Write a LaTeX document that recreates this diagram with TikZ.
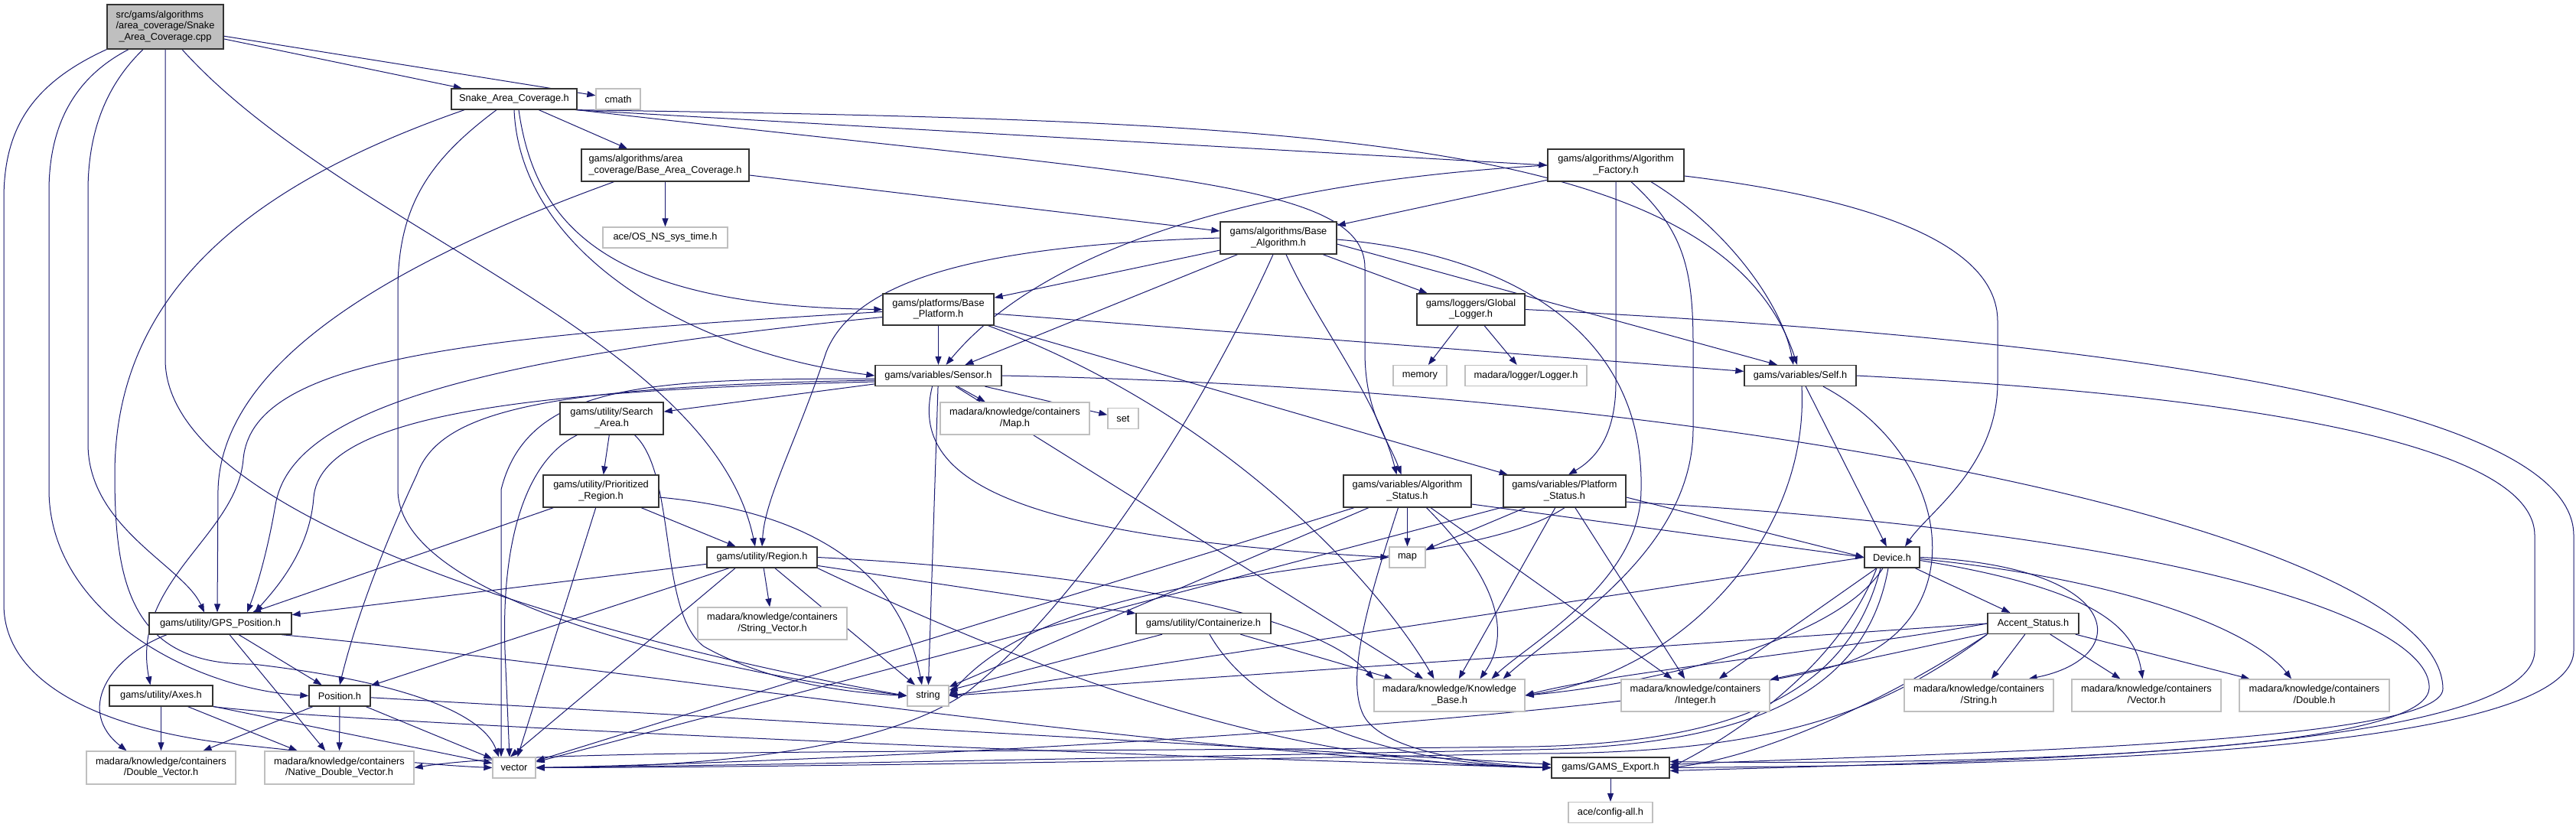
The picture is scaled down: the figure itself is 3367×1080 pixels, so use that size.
\documentclass[tikz,border=0pt]{standalone}
\usepackage{fontspec}
\setmainfont{Liberation Sans}
\usetikzlibrary{arrows.meta,backgrounds}
\definecolor{edgeB}{RGB}{25,25,112}
\definecolor{boxG}{RGB}{191,191,191}
% two-line doxygen label: first line left, last line centred
\newcommand{\dlbl}[2]{\begin{tabular}{@{}l@{}}#1\\\multicolumn{1}{@{}c@{}}{#2}\end{tabular}}

\begin{document}
\begin{tikzpicture}[x=1pt,y=-1pt,font=\fontsize{12.8}{14.8}\selectfont,
  doc/.style={draw=black!80,fill=white,line width=1.3pt,inner sep=0pt},
  ext/.style={draw=boxG,fill=white,line width=1.3pt,inner sep=0pt},
  sz/.style 2 args={minimum width=#1pt,minimum height=#2pt},
  inc/.style={draw=edgeB,line width=1pt,-{Triangle[length=11pt,width=8pt]}}]
\useasboundingbox (0,0) rectangle (3367,1080);
% files, rank by rank
\node[doc,fill=boxG,sz={152}{58}] (root) at (216,35) {\begin{tabular}{@{}l@{}}src/gams/algorithms\\/area\_coverage/Snake\\\multicolumn{1}{@{}c@{}}{\_Area\_Coverage.cpp}\end{tabular}};
\node[doc,sz={164}{27}] (snake) at (672,129.5) {Snake\_Area\_Coverage.h};
\node[ext,sz={58}{27}] (cmath) at (808,129.5) {cmath};
\node[doc,sz={219}{42}] (bac) at (869.5,216) {\dlbl{gams/algorithms/area}{\_coverage/Base\_Area\_Coverage.h}};
\node[doc,sz={178}{42}] (factory) at (2112,216) {\dlbl{gams/algorithms/Algorithm}{\_Factory.h}};
\node[ext,sz={163}{27}] (osns) at (869.5,310.5) {ace/OS\_NS\_sys\_time.h};
\node[doc,sz={152}{42}] (basealg) at (1671,311) {\dlbl{gams/algorithms/Base}{\_Algorithm.h}};
\node[doc,sz={145}{41}] (baseplat) at (1226.5,404.5) {\dlbl{gams/platforms/Base}{\_Platform.h}};
\node[doc,sz={141}{41}] (logger) at (1922.5,404.5) {\dlbl{gams/loggers/Global}{\_Logger.h}};
\node[doc,sz={165}{27}] (sensor) at (1226.5,491) {gams/variables/Sensor.h};
\node[ext,sz={70}{27}] (memory) at (1856,491) {memory};
\node[ext,sz={159}{27}] (madlog) at (1994.5,491) {madara/logger/Logger.h};
\node[doc,sz={146}{27}] (self) at (2353,491) {gams/variables/Self.h};
\node[doc,sz={135}{42}] (search) at (799.5,547) {\dlbl{gams/utility/Search}{\_Area.h}};
\node[ext,sz={195}{42}] (mapc) at (1326.5,547) {\dlbl{madara/knowledge/containers}{/Map.h}};
\node[ext,sz={40}{27}] (set) at (1468,547) {set};
\node[doc,sz={151}{42}] (prio) at (785.5,642) {\dlbl{gams/utility/Prioritized}{\_Region.h}};
\node[doc,sz={167}{42}] (algstat) at (1839.5,642) {\dlbl{gams/variables/Algorithm}{\_Status.h}};
\node[doc,sz={160}{42}] (platstat) at (2045,642) {\dlbl{gams/variables/Platform}{\_Status.h}};
\node[doc,sz={144}{27}] (region) at (996,728.5) {gams/utility/Region.h};
\node[ext,sz={47}{27}] (map) at (1839.5,728.5) {map};
\node[doc,sz={72}{27}] (device) at (2473,728.5) {Device.h};
\node[doc,sz={186}{28}] (gps) at (288,815) {gams/utility/GPS\_Position.h};
\node[ext,sz={195}{42}] (strvec) at (1009.5,815) {\dlbl{madara/knowledge/containers}{/String\_Vector.h}};
\node[doc,sz={176}{27}] (contain) at (1573,815) {gams/utility/Containerize.h};
\node[doc,sz={119}{27}] (accent) at (2657.5,815) {Accent\_Status.h};
\node[doc,sz={135}{27}] (axes) at (210.5,909.5) {gams/utility/Axes.h};
\node[doc,sz={80}{27}] (position) at (444,909.5) {Position.h};
\node[ext,sz={54}{27}] (string) at (1213,909.5) {string};
\node[ext,sz={197}{42}] (kb) at (1894.5,909) {\dlbl{madara/knowledge/Knowledge}{\_Base.h}};
\node[ext,sz={194}{42}] (integer) at (2216,909) {\dlbl{madara/knowledge/containers}{/Integer.h}};
\node[ext,sz={195}{42}] (strc) at (2586.5,909) {\dlbl{madara/knowledge/containers}{/String.h}};
\node[ext,sz={195}{42}] (vecc) at (2805.5,909) {\dlbl{madara/knowledge/containers}{/Vector.h}};
\node[ext,sz={196}{42}] (dbl) at (3025,909) {\dlbl{madara/knowledge/containers}{/Double.h}};
\node[ext,sz={195}{43}] (dblvec) at (210.5,1003.5) {\dlbl{madara/knowledge/containers}{/Double\_Vector.h}};
\node[ext,sz={195}{43}] (ndblvec) at (443.5,1003.5) {\dlbl{madara/knowledge/containers}{/Native\_Double\_Vector.h}};
\node[ext,sz={56}{27}] (vector) at (672,1003.5) {vector};
\node[doc,sz={154}{27}] (export) at (2105,1003.5) {gams/GAMS\_Export.h};
\node[ext,sz={110}{27}] (config) at (2105,1062) {ace/config-all.h};

\begin{scope}[on background layer]
\fill[white] (0,0) rectangle (3367,1080);
% source file
\draw[inc] (root) -- (snake);
\draw[inc] (root) -- (cmath);
\draw[inc] (root.south west) .. controls (40,110) and (5,170) .. (5,260) -- (5,790) .. controls (5,900) and (150,955) .. (300,972) .. controls (450,988) and (560,1000) .. (vector.west);
\draw[inc] ([xshift=-48pt]root.south) .. controls (100,100) and (64,160) .. (64,250) -- (64,640) .. controls (64,800) and (250,900) .. (position.west);
\draw[inc] ([xshift=-29pt]root.south) .. controls (140,110) and (115,170) .. (115,250) -- (115,580) .. controls (115,690) and (240,740) .. ([xshift=-21pt]gps.north);
\draw[inc] (root.south) -- (216,470) .. controls (216,700) and (900,860) .. (string.west);
\draw[inc] ([xshift=22pt]root.south) .. controls (450,300) and (930,440) .. ([xshift=-9pt]region.north);
% Snake_Area_Coverage.h
\draw[inc] (snake) -- (bac);
\draw[inc] ([xshift=-3pt]snake.south east) -- (factory.west);
\draw[inc] (snake.south) .. controls (680,330) and (900,460) .. (sensor.west);
\draw[inc] ([xshift=6pt]snake.south) .. controls (700,300) and (800,400) .. (baseplat.west);
\draw[inc] ([xshift=-65pt]snake.south) .. controls (330,240) and (150,380) .. (150,620) .. controls (150,760) and (170,870) .. (330,868) .. controls (520,890) and (630,930) .. ([xshift=-20pt]vector.north);
\draw[inc] ([xshift=-23pt]snake.south) .. controls (560,210) and (520,270) .. (520,380) -- (520,640) .. controls (520,790) and (950,880) .. (string.west);
\draw[inc] (snake.south east) .. controls (1700,158) and (2250,175) .. ([xshift=-4pt]self.north);
\draw[inc] (snake.south east) .. controls (1500,230) and (1784,235) .. (1784,350) -- (1784,460) .. controls (1784,540) and (1815,575) .. ([xshift=-8pt]algstat.north);
% Base_Area_Coverage.h
\draw[inc] (bac) -- (osns);
\draw[inc] (bac) -- (basealg);
\draw[inc] ([xshift=-67pt]bac.south) .. controls (520,340) and (290,470) .. (285,640) -- ([xshift=-4pt]gps.north);
% Algorithm_Factory.h
\draw[inc] (factory) -- (basealg);
\draw[inc] (factory.west) .. controls (1600,240) and (1350,340) .. ([xshift=10pt]sensor.north);
\draw[inc] (factory.south) -- (2112,500) .. controls (2112,570) and (2085,600) .. ([xshift=5pt]platstat.north);
\draw[inc] ([xshift=20pt]factory.south) .. controls (2200,300) and (2213,350) .. (2213,450) -- (2213,560) .. controls (2213,720) and (2040,820) .. ([xshift=70pt]kb.north);
\draw[inc] ([xshift=46pt]factory.south) .. controls (2260,300) and (2330,400) .. ([xshift=-9pt]self.north);
\draw[inc] ([yshift=-14pt]factory.east) .. controls (2450,260) and (2611,320) .. (2611,420) -- (2611,500) .. controls (2611,610) and (2520,670) .. ([xshift=17pt]device.north);
% Base_Algorithm.h
\draw[inc] (basealg) -- (baseplat);
\draw[inc] (basealg) -- (sensor);
\draw[inc] (basealg) -- (logger);
\draw[inc] ([yshift=-8pt]basealg.east) -- ([xshift=-30pt]self.north);
\draw[inc] (basealg.west) .. controls (1300,320) and (1120,360) .. (1080,460) .. controls (1040,580) and (1000,650) .. (region.north);
\draw[inc] ([xshift=-7pt]basealg.south) .. controls (1580,520) and (1420,780) .. (1265,904) .. controls (1150,985) and (900,1003) .. (vector.east);
\draw[inc] ([xshift=10pt]basealg.south) .. controls (1720,420) and (1800,520) .. ([xshift=-14pt]algstat.north);
\draw[inc] ([yshift=-2pt]basealg.east) .. controls (1950,330) and (2150,420) .. (2145,640) .. controls (2145,760) and (2000,840) .. ([xshift=55pt]kb.north);
% Base_Platform.h
\draw[inc] (baseplat) -- (sensor);
\draw[inc] (baseplat) -- (self);
\draw[inc] (baseplat) -- (platstat);
\draw[inc] ([xshift=65pt]baseplat.south) .. controls (1600,540) and (1800,760) .. ([xshift=-20pt]kb.north);
\draw[inc] ([yshift=-3pt]baseplat.west) .. controls (600,440) and (330,470) .. (318,600) .. controls (310,700) and (170,760) .. ([xshift=-14pt]axes.north);
\draw[inc] ([yshift=-10pt]baseplat.west) .. controls (600,470) and (380,540) .. (360,660) .. controls (350,720) and (335,770) .. ([xshift=35pt]gps.north);
% Global_Logger.h
\draw[inc] (logger) -- (memory);
\draw[inc] (logger) -- (madlog);
\draw[inc] (logger.east) .. controls (2700,440) and (3364,520) .. (3364,700) -- (3364,850) .. controls (3364,990) and (2600,1000) .. (export.east);
% Self.h
\draw[inc] (self) -- (device);
\draw[inc] ([xshift=2pt]self.south) .. controls (2365,700) and (2200,880) .. (kb.east);
\draw[inc] ([xshift=30pt]self.south) .. controls (2560,600) and (2580,820) .. (2400,870) .. controls (2200,930) and (1300,990) .. (vector.east);
\draw[inc] (self.east) .. controls (2800,510) and (3313,560) .. (3313,700) -- (3313,850) .. controls (3313,985) and (2600,995) .. ([yshift=-4pt]export.east);
% Sensor.h
\draw[inc] (sensor) -- (search);
\draw[inc] (sensor) -- (mapc);
\draw[inc] (sensor) -- (set);
\draw[inc] (sensor) -- (string);
\draw[inc] (sensor) -- (kb);
\draw[inc] ([xshift=-8pt]sensor.south) .. controls (1190,620) and (1300,700) .. (map.west);
\draw[inc] ([yshift=-4pt]sensor.west) .. controls (850,495) and (690,500) .. (655,640) -- ([xshift=-17pt]vector.north);
\draw[inc] ([yshift=-8pt]sensor.west) .. controls (700,510) and (420,540) .. (410,650) .. controls (405,720) and (360,770) .. ([xshift=45pt]gps.north);
\draw[inc] ([yshift=-6pt]sensor.west) .. controls (700,505) and (575,540) .. (545,620) .. controls (480,760) and (455,850) .. (position.north);
\draw[inc] (sensor.east) .. controls (2300,510) and (3190,700) .. (3193,900) .. controls (3195,975) and (2500,985) .. ([yshift=4pt]export.east);
% Search_Area.h
\draw[inc] (search) -- (prio);
\draw[inc] ([xshift=-45pt]search.south) .. controls (690,600) and (655,700) .. (660,850) -- ([xshift=-6pt]vector.north);
\draw[inc] ([xshift=30pt]search.south) .. controls (885,620) and (860,800) .. (920,845) .. controls (1000,890) and (1100,905) .. (string.west);
% Prioritized_Region.h
\draw[inc] (prio) -- (region);
\draw[inc] (prio) -- (gps);
\draw[inc] (prio) -- (vector);
\draw[inc] ([yshift=-8pt]prio.east) .. controls (1080,670) and (1180,760) .. ([xshift=-8pt]string.north);
% Region.h
\draw[inc] (region) -- (gps);
\draw[inc] (region) -- (position);
\draw[inc] (region) -- (strvec);
\draw[inc] (region) -- (contain);
\draw[inc] (region) -- (string);
\draw[inc] ([xshift=-35pt]region.south) -- ([xshift=-5pt]vector.north);
\draw[inc] (region.east) .. controls (1300,740) and (1700,780) .. (kb.north west);
\draw[inc] (region.south east) .. controls (1400,900) and (1700,1000) .. (export.west);
% Containerize.h
\draw[inc] (contain) -- (string);
\draw[inc] (contain) -- (kb);
\draw[inc] ([xshift=8pt]contain.south) .. controls (1650,950) and (1850,1000) .. (export.west);
% Algorithm_Status.h
\draw[inc] (algstat) -- (map);
\draw[inc] (algstat) -- (integer);
\draw[inc] (algstat) -- (string);
\draw[inc] (algstat) -- (vector);
\draw[inc] ([yshift=-17pt]algstat.east) -- (device.west);
\draw[inc] ([xshift=25pt]algstat.south) .. controls (1960,760) and (1975,830) .. ([xshift=40pt]kb.north);
\draw[inc] ([xshift=-12pt]algstat.south) .. controls (1790,780) and (1760,880) .. (1780,930) .. controls (1800,985) and (1950,1000) .. (export.west);
% Platform_Status.h
\draw[inc] (platstat) -- (map);
\draw[inc] (platstat) -- (kb);
\draw[inc] (platstat) -- (integer);
\draw[inc] (platstat) -- (vector);
\draw[inc] ([yshift=-8pt]platstat.east) -- (device.west);
\draw[inc] (platstat.south) .. controls (1900,760) and (1400,720) .. (string.east);
\draw[inc] ([yshift=-14pt]platstat.east) .. controls (2900,700) and (3180,820) .. (3175,900) .. controls (3170,990) and (2500,1000) .. ([yshift=8pt]export.east);
% Device.h
\draw[inc] (device) -- (accent);
\draw[inc] (device) -- (integer);
\draw[inc] (device.west) -- (string.east);
\draw[inc] (device.east) .. controls (2780,740) and (2790,860) .. ([xshift=65pt]strc.north);
\draw[inc] ([yshift=-4pt]device.east) .. controls (2740,770) and (2790,820) .. ([xshift=-5pt]vecc.north);
\draw[inc] ([yshift=-2pt]device.east) .. controls (2800,760) and (2950,830) .. ([xshift=-30pt]dbl.north);
\draw[inc] ([xshift=-12pt]device.south) .. controls (2400,840) and (2150,895) .. (kb.east);
\draw[inc] ([xshift=-5pt]device.south) .. controls (2440,900) and (2300,975) .. (2000,980) .. controls (1500,990) and (1000,1000) .. (vector.east);
\draw[inc] ([xshift=-15pt]device.south) .. controls (2420,890) and (2300,970) .. (2000,976) .. controls (1200,985) and (700,978) .. (ndblvec.east);
\draw[inc] ([xshift=-20pt]device.south) .. controls (2400,880) and (2250,970) .. (export.east);
% Accent_Status.h
\draw[inc] (accent) -- (strc);
\draw[inc] (accent) -- (vecc);
\draw[inc] (accent) -- (dbl);
\draw[inc] (accent) -- (integer);
\draw[inc] (accent.west) -- (string.east);
\draw[inc] (accent.west) .. controls (2400,850) and (2100,880) .. (kb.east);
\draw[inc] (accent.south west) .. controls (2450,940) and (2300,985) .. (2000,985) .. controls (1500,995) and (1000,1003) .. (vector.east);
\draw[inc] (accent.south west) .. controls (2460,920) and (2300,990) .. (export.east);
% bottom utilities
\draw[inc] (gps) -- (position);
\draw[inc] (gps) -- (ndblvec);
\draw[inc] ([xshift=-70pt]gps.south) .. controls (140,860) and (100,930) .. ([xshift=-45pt]dblvec.north);
\draw[inc] ([xshift=80pt]gps.south) .. controls (800,870) and (1500,985) .. (export.west);
\draw[inc] (position) -- (dblvec);
\draw[inc] (position) -- (ndblvec);
\draw[inc] (position) -- (vector);
\draw[inc] (position) -- (export);
\draw[inc] (axes) -- (dblvec);
\draw[inc] (axes) -- (ndblvec);
\draw[inc] (axes) -- (vector);
\draw[inc] (axes.south east) .. controls (450,945) and (1500,990) .. (export.west);
\draw[inc] (export) -- (config);
\end{scope}
\end{tikzpicture}
\end{document}
